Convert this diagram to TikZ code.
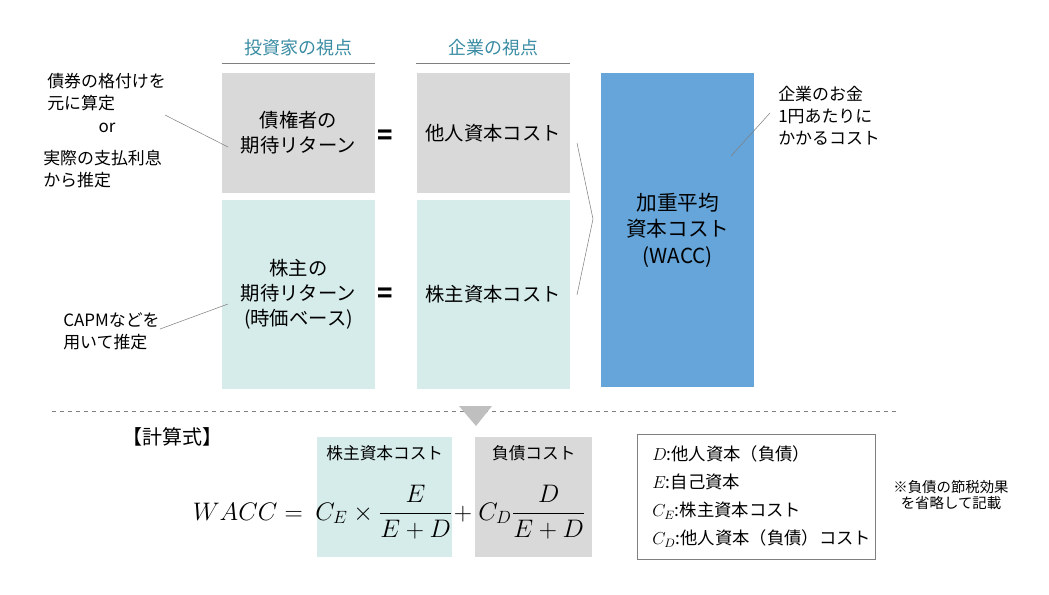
\RequirePackage{fix-cm}
\documentclass[tikz,border=0pt]{standalone}
\usepackage{amsmath}
\usepackage{fontspec}
\setmainfont{Noto Sans CJK JP}
\usetikzlibrary{positioning}

\definecolor{debtgray}{HTML}{D9D9D9}
\definecolor{equityteal}{HTML}{D5ECEA}
\definecolor{waccblue}{HTML}{65A5DA}
\definecolor{headteal}{HTML}{3A8CA3}
\definecolor{rulegray}{HTML}{808080}
\definecolor{arrowgray}{HTML}{BFBFBF}

\begin{document}
\begin{tikzpicture}[
    x=0.75pt, y=-0.75pt,
    cell/.style={
        rectangle,
        inner sep=0pt,
        minimum width=114.75pt,
        minimum height=90pt,
        align=center,
        font=\fontsize{14.5pt}{18.75pt}\selectfont
    },
    head/.style={
        text=headteal,
        font=\fontsize{13.5pt}{16pt}\selectfont
    },
    note/.style={
        align=left,
        inner sep=0pt,
        font=\fontsize{12.7pt}{16.5pt}\selectfont
    },
    equal/.style={font=\fontsize{19pt}{19pt}\selectfont\bfseries},
    guide/.style={draw=rulegray, thin},
    formula/.style={font=\fontsize{19pt}{23pt}\selectfont, inner sep=0pt}
]
    \useasboundingbox (0,0) rectangle (1049,594);

    % Define nodes
    \node[cell, fill=debtgray] (debtret) at (298.5,133) {債権者の\\期待リターン};
    \node[cell, fill=equityteal, minimum height=141.75pt, below=4.5pt of debtret] (equityret) {株主の\\期待リターン\\(時価ベース)};
    \node[cell, fill=debtgray, right=30.75pt of debtret] (debtcost) {他人資本コスト};
    \node[cell, fill=equityteal, minimum height=141.75pt, right=30.75pt of equityret] (equitycost) {株主資本コスト};
    \node[cell, fill=waccblue, minimum height=235.5pt, anchor=north west,
          font=\fontsize{15.5pt}{20pt}\selectfont] (wacc) at (601,73) {加重平均\\資本コスト\\(WACC)};

    % Headers
    \node[head] (investor) at (debtret.north |- 0,48) {投資家の視点};
    \node[head] (company) at (debtcost.north |- 0,48) {企業の視点};
    \draw[guide] ([yshift=6.75pt]debtret.north west) -- ([yshift=6.75pt]debtret.north east);
    \draw[guide] ([yshift=6.75pt]debtcost.north west) -- ([yshift=6.75pt]debtcost.north east);

    % Equals
    \node[equal] (eqdebt) at (385,137) {=};
    \node[equal] (eqequity) at (385,295) {=};

    % Chevron
    \draw[guide] (577,143) -- (593,219) -- (577,295);

    % Annotations
    \node[note, anchor=west] (ratenote) at (47,92.5) {債券の格付けを\\元に算定};
    \node[note] (ornote) at (107,128) {or};
    \node[note, anchor=west] (paynote) at (43,169) {実際の支払利息\\から推定};
    \node[note, anchor=west] (capmnote) at (63,331) {CAPMなどを\\用いて推定};
    \node[note, anchor=west] (waccnote) at (778,116) {企業のお金\\1円あたりに\\かかるコスト};

    \coordinate (ratefrom) at (165,115);
    \coordinate (rateto) at (228,147);
    \coordinate (capmfrom) at (160,329);
    \coordinate (capmto) at (228,304);
    \coordinate (waccfrom) at (770,113);
    \coordinate (waccto) at (731,156);
    \draw[guide] (ratefrom) -- (rateto);
    \draw[guide] (capmfrom) -- (capmto);
    \draw[guide] (waccfrom) -- (waccto);

    % Divider
    \draw[rulegray, dashed] (52,411) -- (897,411);
    \fill[arrowgray] (459,406) -- (492,406) -- (476,426) -- cycle;

    % Formula
    \node[font=\fontsize{15pt}{17pt}\selectfont, anchor=west, inner sep=0pt] (calc) at (122,437) {【計算式】};
    \node[fill=equityteal, minimum width=101.25pt, minimum height=90pt, anchor=north west] (cebox) at (317,437) {};
    \node[fill=debtgray, minimum width=87.75pt, minimum height=90pt, anchor=north west] (cdbox) at (475,437) {};
    \node[font=\fontsize{12.5pt}{15pt}\selectfont] (celabel) at (cebox.north |- 0,453) {株主資本コスト};
    \node[font=\fontsize{12.5pt}{15pt}\selectfont] (cdlabel) at (cdbox.north |- 0,453) {負債コスト};

    \node[formula, anchor=base east] (lhs) at (303,520) {$WACC=$};
    \node[formula, anchor=base] (ceterm) at (384,520) {$C_E\times\dfrac{E}{E+D}$};
    \node[formula, anchor=base] (plus) at (463,520) {$+$};
    \node[formula, anchor=base] (cdterm) at (532,520) {$C_D\dfrac{D}{E+D}$};

    % Legend
    \node[draw=rulegray, minimum width=178.5pt, minimum height=93.75pt, anchor=north west] (legend) at (637,434) {};
    \node[align=left, inner sep=0pt, anchor=west, font=\fontsize{13pt}{21pt}\selectfont] (legendtext)
        at ([xshift=11.25pt]legend.west) {$D$:他人資本（負債）\\$E$:自己資本\\$C_E$:株主資本コスト\\$C_D$:他人資本（負債）コスト};

    \node[align=center, font=\fontsize{10.8pt}{12pt}\selectfont] (taxnote) at (951,495) {※負債の節税効果\\を省略して記載};
\end{tikzpicture}
\end{document}
